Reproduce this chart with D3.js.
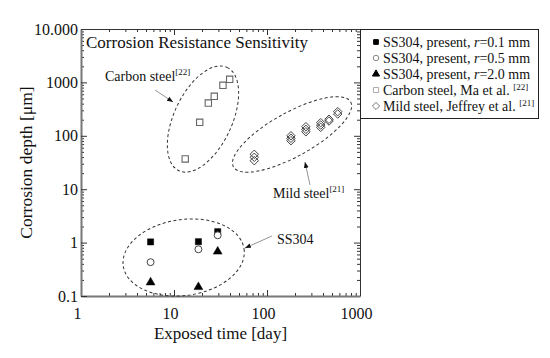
<!DOCTYPE html>
<html><head><meta charset="utf-8">
<script src="https://cdn.jsdelivr.net/npm/d3@7"></script>
<style>
body{margin:0;background:#fff;}
svg{font-family:"Liberation Serif","Times New Roman",serif;}
</style></head>
<body><svg id="c" width="550" height="358"></svg>
<script>
// ---- data ----
const ss01Days = [5.6, 18.3, 29.5];
const ss01Depth = [1.03, 1.04, 1.6];
const ss05Days = [5.6, 18.3, 29.5];
const ss05Depth = [0.43, 0.75, 1.37];
const ss20Days = [5.6, 18.3, 29.5];
const ss20Depth = [0.18, 0.147, 0.68];
const carbonDays = [13.2, 18.9, 23.4, 27.1, 33.6, 39.7];
const carbonDepth = [36.8, 179, 411, 549, 883, 1143];
const mildDays = [73, 73, 73, 181, 181, 181, 262, 262, 262, 378, 378, 378, 464, 464, 576, 576];
const mildDepth = [45, 39.6, 34.2, 100, 89.8, 81, 148, 132, 119, 176, 159, 144, 204, 189, 283, 256];
const xTicks = [1, 10, 100, 1000];
const xTickLabels = ["1", "10", "100", "1000"];
const yTicks = [0.1, 1, 10, 100, 1000, 10000];
const yTickLabels = ["0.1", "1", "10", "100", "1000", "10.000"];
const legendLabels = ["SS304, present, r=0.1 mm", "SS304, present, r=0.5 mm", "SS304, present, r=2.0 mm", "Carbon steel, Ma et al. ", "Mild steel, Jeffrey et al. "];
// annotation anchors (data coordinates)
const groupNames = ["Carbon steel", "Mild steel", "SS304"];
const groupRefs = ["[22]", "[21]", ""];
const ellipseCenters = [[20.5, 206], [186, 106], [12.7, 0.526]];
const labelAnchors = [[1.81, 1318], [116, 8.5], [128, 1.17]];
const arrowFrom = [[6.25, 721], [290, 12], [113, 1.33]];
const arrowTo = [[9.77, 430], [256, 32.3], [58, 0.79]];

// ---- layout ----
const svg = d3.select("#c");
const L = 81, R = 360, T = 29, B = 296;
const x = d3.scaleLog().domain([1, 1000]).range([L, R]);
const y = d3.scaleLog().domain([0.1, 10000]).range([B, T]);

function minors(dom) {
  const out = [];
  for (let e = Math.log10(dom[0]); e < Math.log10(dom[1]); e++)
    for (let k = 2; k <= 9; k++) out.push(k * Math.pow(10, e));
  return out;
}
const xMinor = minors([1, 1000]);
const yMinor = minors([0.1, 10000]);

function styleAxis(g, col, w) {
  g.select(".domain").attr("stroke", col).attr("stroke-width", w);
  g.selectAll(".tick line").attr("stroke", "#333").attr("stroke-width", 1);
}
const fmtX = (d) => xTickLabels[xTicks.indexOf(d)];
const fmtY = (d) => yTickLabels[yTicks.indexOf(d)];
const noDom = g => { g.select(".domain").remove(); g.selectAll(".tick line").attr("stroke", "#333"); };

// minor ticks
svg.append("g").attr("transform", `translate(0,${B})`)
  .call(d3.axisBottom(x).tickValues(xMinor).tickSize(-3).tickFormat("").tickSizeOuter(0)).call(noDom);
svg.append("g").attr("transform", `translate(0,${T})`)
  .call(d3.axisTop(x).tickValues(xMinor).tickSize(-3).tickFormat("").tickSizeOuter(0)).call(noDom);
svg.append("g").attr("transform", `translate(${L},0)`)
  .call(d3.axisLeft(y).tickValues(yMinor).tickSize(-3).tickFormat("").tickSizeOuter(0)).call(noDom);
svg.append("g").attr("transform", `translate(${R},0)`)
  .call(d3.axisRight(y).tickValues(yMinor).tickSize(-3).tickFormat("").tickSizeOuter(0)).call(noDom);

// top & right frame
svg.append("g").attr("transform", `translate(0,${T})`)
  .call(d3.axisTop(x).tickValues(xTicks).tickSize(-6).tickFormat("").tickSizeOuter(0))
  .call(g => styleAxis(g, "#333", 1));
svg.append("g").attr("transform", `translate(${R},0)`)
  .call(d3.axisRight(y).tickValues(yTicks).tickSize(-6).tickFormat("").tickSizeOuter(0))
  .call(g => styleAxis(g, "#333", 1));

// bottom & left main axes
const gx = svg.append("g").attr("transform", `translate(0,${B})`)
  .call(d3.axisBottom(x).tickValues(xTicks).tickFormat(fmtX).tickSize(-6).tickSizeOuter(0).tickPadding(12))
  .call(g => styleAxis(g, "#777", 2));
gx.selectAll("text").attr("font-size", 16).attr("fill", "#111").attr("font-family", "Liberation Serif").attr("dx", -4);
const gy = svg.append("g").attr("transform", `translate(${L},0)`)
  .call(d3.axisLeft(y).tickValues(yTicks).tickFormat(fmtY).tickSize(-6).tickSizeOuter(0).tickPadding(3))
  .call(g => styleAxis(g, "#777", 2));
gy.selectAll("text").attr("font-size", 16).attr("fill", "#111").attr("font-family", "Liberation Serif");

// axis titles
svg.append("text").attr("x", (L + R) / 2).attr("y", 339).attr("text-anchor", "middle")
  .attr("font-size", 17).attr("fill", "#111").text("Exposed time [day]");
svg.append("text").attr("transform", `translate(32,${(T + B) / 2}) rotate(-90)`).attr("text-anchor", "middle")
  .attr("font-size", 17.5).attr("fill", "#111").text("Corrosion depth [μm]");

// chart title
svg.append("text").attr("x", L + 5).attr("y", 48).attr("font-size", 17).attr("fill", "#111")
  .text("Corrosion Resistance Sensitivity");

// ellipses
const ellGeom = [{ a: 57, b: 29, ang: -65 }, { a: 67, b: 22, ang: -29 }, { a: 61, b: 38, ang: -8 }];
ellipseCenters.forEach((c, i) => {
  const g = ellGeom[i];
  svg.append("ellipse").attr("cx", x(c[0])).attr("cy", y(c[1])).attr("rx", g.a).attr("ry", g.b)
    .attr("transform", `rotate(${g.ang},${x(c[0])},${y(c[1])})`)
    .attr("fill", "none").attr("stroke", "#333").attr("stroke-width", 1).attr("stroke-dasharray", "3,2.5");
});

// arrows
svg.append("defs").append("marker").attr("id", "ah").attr("viewBox", "0 0 10 10")
  .attr("refX", 10).attr("refY", 5).attr("markerWidth", 6).attr("markerHeight", 6).attr("orient", "auto")
  .attr("markerUnits", "userSpaceOnUse")
  .append("path").attr("d", "M0,1L10,5L0,9Z").attr("fill", "#111");
arrowFrom.forEach((f, i) => {
  svg.append("line").attr("x1", x(f[0])).attr("y1", y(f[1])).attr("x2", x(arrowTo[i][0])).attr("y2", y(arrowTo[i][1]))
    .attr("stroke", "#888").attr("stroke-width", 0.9).attr("marker-end", "url(#ah)");
});
// group labels
labelAnchors.forEach((p, i) => {
  const t = svg.append("text").attr("x", x(p[0])).attr("y", y(p[1])).attr("dy", "0.35em")
    .attr("font-size", 14).attr("fill", "#111");
  t.append("tspan").text(groupNames[i]);
  if (groupRefs[i]) t.append("tspan").attr("font-size", 9).attr("dy", "-0.6em").text(groupRefs[i]);
});

// markers
const rhombus = { draw(ctx, size) { const r = Math.sqrt(size / 2); ctx.moveTo(0, -r); ctx.lineTo(r, 0); ctx.lineTo(0, r); ctx.lineTo(-r, 0); ctx.closePath(); } };
const sym = (type, size) => d3.symbol().type(type).size(size);
function plot(days, depth, type, size, fill, stroke, sw) {
  svg.append("g").selectAll("path").data(days).join("path")
    .attr("transform", (d, i) => `translate(${x(d)},${y(depth[i])})`)
    .attr("d", sym(type, size)())
    .attr("fill", fill).attr("stroke", stroke).attr("stroke-width", sw);
}
plot(carbonDays, carbonDepth, d3.symbolSquare, 40, "none", "#666", 1.1);
plot(mildDays, mildDepth, rhombus, 36, "none", "#444", 1);
plot(ss01Days, ss01Depth, d3.symbolSquare, 38, "#000", "#000", 0.5);
plot(ss05Days, ss05Depth, d3.symbolCircle, 38, "#fff", "#444", 1);
plot(ss20Days, ss20Depth, d3.symbolTriangle, 34, "#000", "#000", 0.5);

// legend
const lg = svg.append("g");
lg.append("rect").attr("x", R + 0.5).attr("y", T + 0.5).attr("width", 178).attr("height", 89)
  .attr("fill", "#fff").attr("stroke", "#222").attr("stroke-width", 1);
const legSyms = [
  { t: d3.symbolSquare, s: 22, f: "#000", st: "#000" },
  { t: d3.symbolCircle, s: 24, f: "#fff", st: "#888" },
  { t: d3.symbolTriangle, s: 22, f: "#000", st: "#000" },
  { t: d3.symbolSquare, s: 26, f: "#fff", st: "#aaa" },
  { t: rhombus, s: 26, f: "#fff", st: "#777" }
];
const legRefs = ["", "", "", "[22]", "[21]"];
legendLabels.forEach((lab, i) => {
  const yy = T + 13 + i * 16;
  lg.append("path").attr("transform", `translate(${R + 16},${yy})`).attr("d", sym(legSyms[i].t, legSyms[i].s)())
    .attr("fill", legSyms[i].f).attr("stroke", legSyms[i].st).attr("stroke-width", 1);
  const t = lg.append("text").attr("x", R + 23).attr("y", yy).attr("dy", "0.35em").attr("font-size", 14).attr("fill", "#111");
  if (i < 3) {
    const parts = lab.split("r=");
    t.append("tspan").text(parts[0]);
    t.append("tspan").attr("font-style", "italic").text("r");
    t.append("tspan").text("=" + parts[1]);
  } else {
    t.append("tspan").text(lab);
    t.append("tspan").attr("font-size", 9).attr("dy", "-0.6em").text(legRefs[i]);
  }
});
</script></body></html>
